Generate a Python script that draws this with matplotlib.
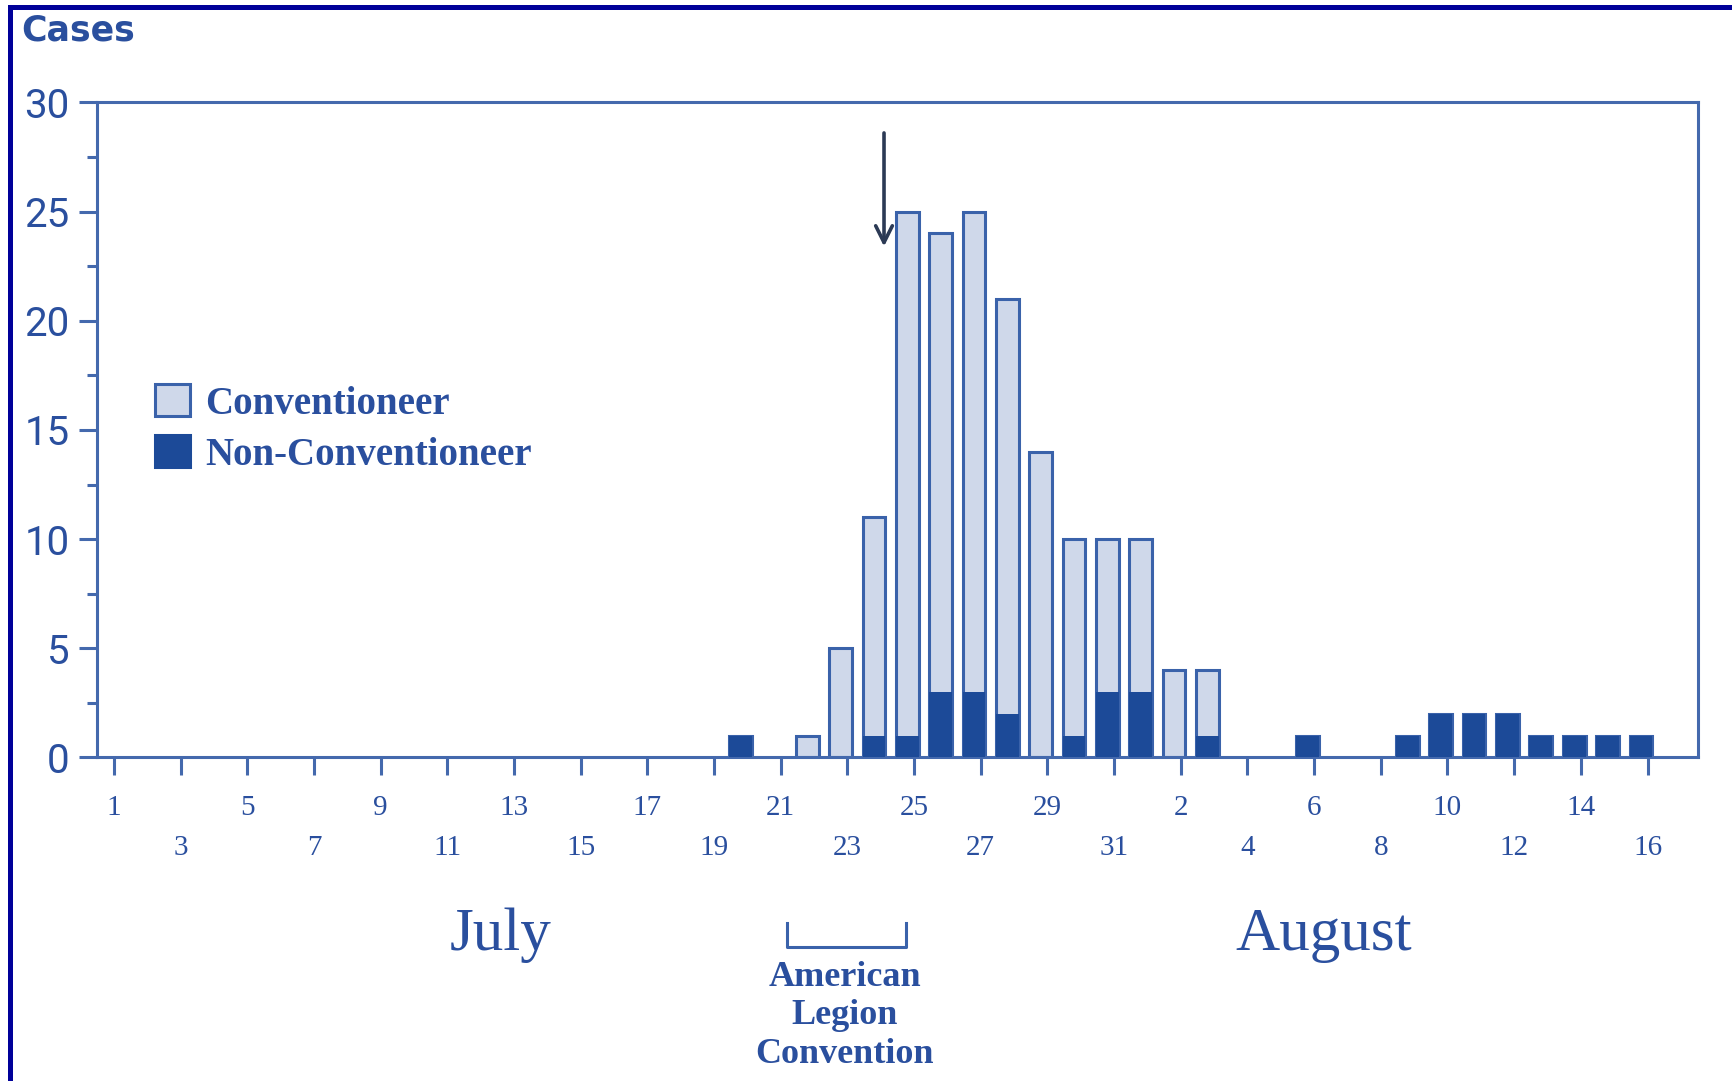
import matplotlib.pyplot as plt
from matplotlib.patches import Patch
from matplotlib.lines import Line2D
import matplotlib.transforms as mtransforms

## DATA (day 1 = July 1, day 32 = August 1)
days = [20, 22, 23, 24, 25, 26, 27, 28, 29, 30, 31, 32, 33, 34,
        37, 40, 41, 42, 43, 44, 45, 46, 47]
conventioneer = [0, 1, 5, 10, 24, 21, 22, 19, 14, 9, 7, 7, 4, 3,
                 0, 0, 0, 0, 0, 0, 0, 0, 0]
non_conventioneer = [1, 0, 0, 1, 1, 3, 3, 2, 0, 1, 3, 3, 0, 1,
                     1, 1, 2, 2, 2, 1, 1, 1, 1]
row1_days = list(range(1, 48, 4))
row2_days = list(range(3, 48, 4))
tick_names = {d: str(d if d <= 31 else d - 31) for d in range(1, 48)}
convention = (21.2, 24.75)
arrow_day, arrow_from, arrow_to = 24.1, 28.6, 23.4

## COLOURS
light = "#cfd8ea"
dark = "#1c4a98"
edge = "#3a62aa"
axis_c = "#4469ad"
text_c = "#2a4f9e"
frame_c = "#000099"

fig = plt.figure(figsize=(17.32, 10.81), dpi=100)
ax = fig.add_axes([0.0561, 0.2993, 0.924, 0.606])

totals = [c + n for c, n in zip(conventioneer, non_conventioneer)]
xs = [d - 0.2 for d in days]
ax.bar(xs, totals, width=0.68, color=light, edgecolor=edge, linewidth=2.2, zorder=2)
ax.bar(xs, non_conventioneer, width=0.68, color=dark, linewidth=0, zorder=3)

ax.set_xlim(0.5, 48.5)
ax.set_ylim(0, 30)

for s in ax.spines.values():
    s.set_color(axis_c)
    s.set_linewidth(2.2)

# y axis
ax.set_yticks(range(0, 31, 5))
ax.set_yticks([2.5 + 5 * i for i in range(6)], minor=True)
ax.tick_params(axis="y", which="major", length=13, width=2.2, color=axis_c,
               labelcolor=text_c, labelsize=29, pad=7)
ax.tick_params(axis="y", which="minor", length=7, width=2.2, color=axis_c)
for lab in ax.get_yticklabels():
    lab.set_family("Roboto")

# x axis: two rows of day labels
ax.set_xticks(row1_days)
ax.set_xticklabels([tick_names[d] for d in row1_days])
ax.set_xticks(row2_days, minor=True)
ax.set_xticklabels([tick_names[d] for d in row2_days], minor=True)
ax.tick_params(axis="x", which="both", length=13, width=2.2, color=axis_c,
               labelcolor=text_c, labelsize=21)
ax.tick_params(axis="x", which="major", pad=14)
ax.tick_params(axis="x", which="minor", pad=43)
for lab in ax.get_xticklabels(which="both"):
    lab.set_family("Liberation Serif")

# legend
handles = [Patch(facecolor=light, edgecolor=edge, linewidth=2.2, label="Conventioneer"),
           Patch(facecolor=dark, edgecolor=dark, linewidth=2.2, label="Non-Conventioneer")]
leg = ax.legend(handles=handles, loc="upper left", bbox_to_anchor=(0.036, 0.57),
                frameon=False, handlelength=0.9, handleheight=0.9,
                handletextpad=0.4, labelspacing=0.32, borderpad=0, borderaxespad=0,
                prop={"family": "Liberation Serif", "weight": "bold", "size": 28})
for t in leg.get_texts():
    t.set_color(text_c)

# arrow
ax.annotate("", xy=(arrow_day, arrow_to), xytext=(arrow_day, arrow_from),
            arrowprops=dict(arrowstyle="->", color="#2c3a55", lw=2.6,
                            mutation_scale=30, shrinkA=0, shrinkB=0))

# convention bracket and month labels below axis
trans = mtransforms.blended_transform_factory(ax.transData, ax.transAxes)
ax.add_line(Line2D([convention[0], convention[0], convention[1], convention[1]],
                   [-0.252, -0.29, -0.29, -0.252], transform=trans, color=edge,
                   lw=2.2, clip_on=False))
ax.text(sum(convention) / 2 - 0.05, -0.31, "American\nLegion\nConvention", transform=trans,
        ha="center", va="top", family="Liberation Serif", weight="bold",
        fontsize=26, color=text_c, linespacing=1.22)
ax.text(12.6, -0.272, "July", transform=trans, ha="center", va="center",
        family="Liberation Serif", fontsize=44, color=text_c)
ax.text(37.3, -0.272, "August", transform=trans, ha="center", va="center",
        family="Liberation Serif", fontsize=44, color=text_c)

fig.text(0.012, 0.972, "Cases", ha="left", va="center", fontsize=25,
         weight="bold", color=text_c)

# outer frame (left and top)
fig.add_artist(Line2D([0.0058, 0.0058], [0, 0.9935], transform=fig.transFigure,
                      color=frame_c, lw=3.6))
fig.add_artist(Line2D([0.0058, 1], [0.9935, 0.9935], transform=fig.transFigure,
                      color=frame_c, lw=3.6))

fig.savefig("out.png", dpi=100)
